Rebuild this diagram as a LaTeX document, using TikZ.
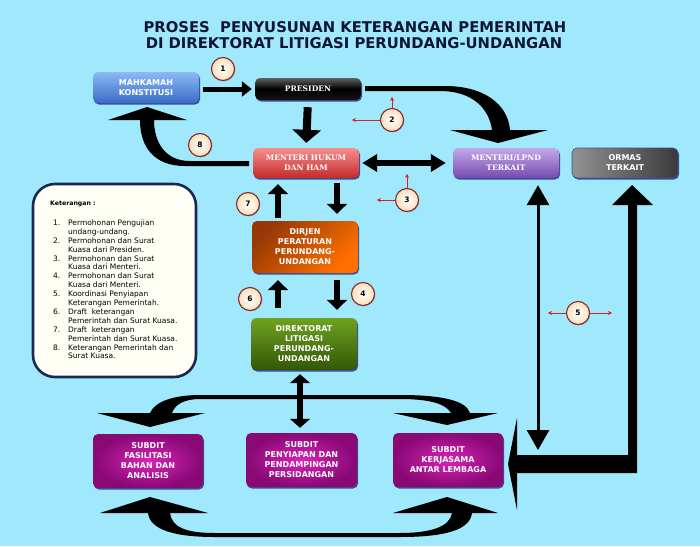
\documentclass[tikz,border=0pt]{standalone}
\usepackage{fontspec}
\setmainfont{DejaVu Sans}
\newfontfamily\boxfont{DejaVu Sans}
\newfontfamily\serfont{DejaVu Serif}
\usetikzlibrary{arrows.meta,shadows}

\definecolor{bgcyan}{RGB}{160,232,252}
\definecolor{titleblue}{RGB}{12,22,52}
\definecolor{mktop}{RGB}{140,186,244}
\definecolor{mkbot}{RGB}{58,108,200}
\definecolor{prestop}{RGB}{96,96,96}
\definecolor{presbot}{RGB}{20,20,20}
\definecolor{mhktop}{RGB}{246,142,142}
\definecolor{mhkbot}{RGB}{196,42,42}
\definecolor{lpndtop}{RGB}{196,168,232}
\definecolor{lpndbot}{RGB}{118,74,176}
\definecolor{ormasleft}{RGB}{146,146,146}
\definecolor{ormasright}{RGB}{58,58,58}
\definecolor{dirjendark}{RGB}{150,56,6}
\definecolor{dirjenlight}{RGB}{255,112,0}
\definecolor{dirtop}{RGB}{112,162,32}
\definecolor{dirbot}{RGB}{48,88,6}
\definecolor{subin}{RGB}{216,36,182}
\definecolor{subout}{RGB}{136,8,116}
\definecolor{shadowblue}{RGB}{58,78,150}
\definecolor{numfill}{RGB}{246,224,186}
\definecolor{numedge}{RGB}{140,40,40}
\definecolor{notefill}{RGB}{255,255,246}
\definecolor{noteedge}{RGB}{24,40,82}
\definecolor{tagred}{RGB}{220,30,30}

\begin{document}
\begin{tikzpicture}[x=1pt,y=-1pt,>=Stealth,line join=round,
    box/.style={rounded corners=5pt,minimum width=106pt,minimum height=30pt,
      inner sep=1pt,align=center,text=white,
      font=\boxfont\bfseries\fontsize{8}{10}\selectfont,
      drop shadow={shadow xshift=1pt,shadow yshift=-1.5pt,fill=shadowblue,opacity=1}},
    serifbox/.style={box,font=\serfont\bfseries\fontsize{7.6}{10}\selectfont},
    tallbox/.style={box,minimum height=52pt},
    subdit/.style={box,minimum width=110pt,minimum height=54pt,
      inner color=subin,outer color=subout},
    numdot/.style={circle,minimum size=23pt,inner sep=0pt,draw=numedge,
      line width=1.1pt,inner color=white,outer color=numfill,
      font=\boxfont\bfseries\fontsize{7.5}{8}\selectfont,
      drop shadow={shadow xshift=.8pt,shadow yshift=-.8pt,fill=black,opacity=.25}},
    redtag/.style={tagred,line width=.7pt,-{Stealth[length=4pt,width=4pt]}},
    arrowone/.style={line width=5pt,-{Triangle[width=15pt,length=10pt]}},
    presarrow/.style={line width=8pt,-{Triangle[width=28pt,length=13pt]}},
    stubarrow/.style={line width=5.5pt,-{Triangle[width=20pt,length=10pt]}},
    twoway/.style={line width=6pt,
      {Triangle[width=17pt,length=15pt]}-{Triangle[width=17pt,length=15pt]}},
    subway/.style={line width=6pt,
      {Triangle[width=20pt,length=9pt]}-{Triangle[width=20pt,length=9pt]}},
    longway/.style={line width=3pt,
      {Triangle[width=22pt,length=20pt]}-{Triangle[width=22pt,length=20pt]}},
    titletext/.style={text=titleblue,inner sep=0pt,
      font=\boxfont\bfseries\fontsize{14.8}{16}\selectfont}
  ]
  % Page background, fixed to the size of the picture.
  \fill[bgcyan] (0,0) rectangle (700,546);
  \useasboundingbox (0,0) rectangle (700,546);

  % Title.
  \node[titletext] (title1) at (355,27) {PROSES\ \ PENYUSUNAN KETERANGAN PEMERINTAH};
  \node[titletext] (title2) at (354,43) {DI DIREKTORAT LITIGASI PERUNDANG-UNDANGAN};

  % Offices.
  \node[box,minimum height=31pt,top color=mktop,bottom color=mkbot] (mk) at (146,87.5)
    {MAHKAMAH\\KONSTITUSI};
  \node[serifbox,minimum height=22pt,top color=prestop,bottom color=presbot,
    middle color=black] (pres) at (308,89) {PRESIDEN};
  \node[serifbox,top color=mhktop,bottom color=mhkbot] (mhk) at (306,163)
    {MENTERI HUKUM\\DAN HAM};
  \node[serifbox,top color=lpndtop,bottom color=lpndbot] (lpnd) at (506,163)
    {MENTERI/LPND\\TERKAIT};
  \node[box,left color=ormasleft,right color=ormasright,draw=shadowblue,
    line width=.6pt] (ormas) at (625,163) {ORMAS\\TERKAIT};
  \node[tallbox,top color=dirjendark,bottom color=dirjenlight,shading angle=45]
    (dirjen) at (305,247) {DIRJEN\\PERATURAN\\PERUNDANG-\\UNDANGAN};
  \node[tallbox,top color=dirtop,bottom color=dirbot] (direktorat) at (304,344)
    {DIREKTORAT\\LITIGASI\\PERUNDANG-\\UNDANGAN};

  % Subdirectorates.
  \node[subdit] (sub1) at (148,461) {SUBDIT\\FASILITASI\\BAHAN DAN\\ANALISIS};
  \node[subdit,minimum width=111pt] (sub2) at (301.5,460)
    {SUBDIT\\PENYIAPAN DAN\\PENDAMPINGAN\\PERSIDANGAN};
  \node[subdit] (sub3) at (448,460) {SUBDIT\\KERJASAMA\\ANTAR LEMBAGA};

  % Legend.
  \node[draw=noteedge,fill=notefill,line width=2.6pt,rounded corners=22pt,
    minimum width=163pt,minimum height=193pt] (legend) at (114.5,280.5) {};
  \node[anchor=west,inner sep=0pt,font=\boxfont\bfseries\fontsize{6.2}{8}\selectfont]
    (legendhead) at (50,204) {Keterangan :};
  \node[anchor=north west,inner sep=0pt,text=black,
    font=\boxfont\fontsize{7.5}{8.9}\selectfont] (legendlist) at (53,219)
    {\begin{tabular}{@{}p{15pt}@{}l@{}}
      1. & Permohonan Pengujian\\
         & undang-undang.\\
      2. & Permohonan dan Surat\\
         & Kuasa dari Presiden.\\
      3. & Permohonan dan Surat\\
         & Kuasa dari Menteri.\\
      4. & Permohonan dan Surat\\
         & Kuasa dari Menteri.\\
      5. & Koordinasi Penyiapan\\
         & Keterangan Pemerintah.\\
      6. & Draft\ \ keterangan\\
         & Pemerintah dan Surat Kuasa.\\
      7. & Draft\ \ keterangan\\
         & Pemerintah dan Surat Kuasa.\\
      8. & Keterangan Pemerintah dan\\
         & Surat Kuasa.
    \end{tabular}};

  % Straight arrows between the offices.
  \draw[arrowone,shorten <=4pt,shorten >=3pt] (mk.east |- pres.west) -- (pres.west);
  \draw[presarrow,shorten <=7pt,shorten >=5pt] (pres.south) -- (mhk.north);
  \draw[twoway,shorten <=3pt,shorten >=7pt] (mhk.east) -- (lpnd.west);
  \draw[stubarrow,shorten <=5pt,shorten >=7pt]
    ([xshift=31pt]mhk.south) -- ([xshift=31pt]mhk.south |- dirjen.north);
  \draw[stubarrow,shorten <=3pt,shorten >=6pt]
    ([xshift=-27pt]dirjen.north) -- ([xshift=-27pt]dirjen.north |- mhk.south);
  \draw[stubarrow,shorten <=7pt,shorten >=8pt]
    ([xshift=32pt]dirjen.south) -- ([xshift=32pt]dirjen.south |- direktorat.north);
  \draw[stubarrow,shorten <=10pt,shorten >=7pt]
    ([xshift=-26pt]direktorat.north) -- ([xshift=-26pt]direktorat.north |- dirjen.south);
  \draw[subway,shorten <=4pt,shorten >=5pt]
    ([xshift=-4pt]direktorat.south) -- ([xshift=-4pt]direktorat.south |- sub2.north);
  \coordinate (lpndfoot) at (538,450);
  \draw[longway,shorten <=7pt] (lpnd.south -| lpndfoot) -- (lpndfoot);

  % Presiden to Menteri/LPND: widening bent arrow.
  \fill (365,86) -- (445,86) .. controls (485,86) and (508,105) .. (510,130)
    -- (548,130) -- (498,143) -- (450,130) -- (492,130)
    .. controls (489,108) and (472,91) .. (440,91) -- (365,91) -- cycle;

  % Menteri Hukum back to Mahkamah Konstitusi (8).
  \fill (249,166) -- (185,166) .. controls (155,166) and (140,148) .. (140,120)
    -- (108,120) -- (147,107) -- (187,120) -- (154,120)
    .. controls (154,142) and (165,161) .. (190,161) -- (249,161) -- cycle;

  % Ormas to Subdit Kerjasama: L-shaped double arrow.
  \fill (632,185) -- (653,205) -- (637,205) -- (637,473) -- (517,473)
    -- (517,510) -- (508,464) -- (517,418) -- (517,455) -- (628,455)
    -- (628,205) -- (612,205) -- cycle;

  % Bent double arrows above and below the subdirectorates.
  \fill (200,395) -- (400,395) .. controls (440,395) and (466,400) .. (470,413)
    -- (498,413) -- (447,425) -- (393,413) -- (451,413)
    .. controls (446,404) and (430,399) .. (400,399) -- (200,399)
    .. controls (185,399) and (175,404) .. (172,413)
    -- (205,413) -- (150,427) -- (97,413) -- (150,413)
    .. controls (155,401) and (175,395) .. (200,395) -- cycle;
  \fill (215,537) -- (400,537) .. controls (445,537) and (470,530) .. (472,513)
    -- (498,513) -- (447,497) -- (393,513) -- (452,513)
    .. controls (450,527) and (430,533) .. (400,533) -- (215,533)
    .. controls (185,533) and (172,527) .. (170,513)
    -- (208,513) -- (150,497) -- (100,513) -- (148,513)
    .. controls (150,530) and (175,537) .. (215,537) -- cycle;

  % Numbered steps.
  \foreach \k/\cx/\cy in {1/223/69,2/392/120,3/407/200,4/363/294,
      5/578/313,6/250/299,7/248/204,8/200/145}
    \node[numdot] (n\k) at (\cx,\cy) {\k};

  % Small red pointers at the steps.
  \draw[redtag] (n2.north) -- ++(0,-11);
  \draw[redtag] (n2.west) -- ++(-28,0);
  \draw[redtag] (n3.north) -- ++(0,-14);
  \draw[redtag] (n3.west) -- ++(-18,0);
  \draw[redtag] (n5.west) -- ++(-18,0);
  \draw[redtag] (n5.east) -- ++(22,0);
\end{tikzpicture}
\end{document}
